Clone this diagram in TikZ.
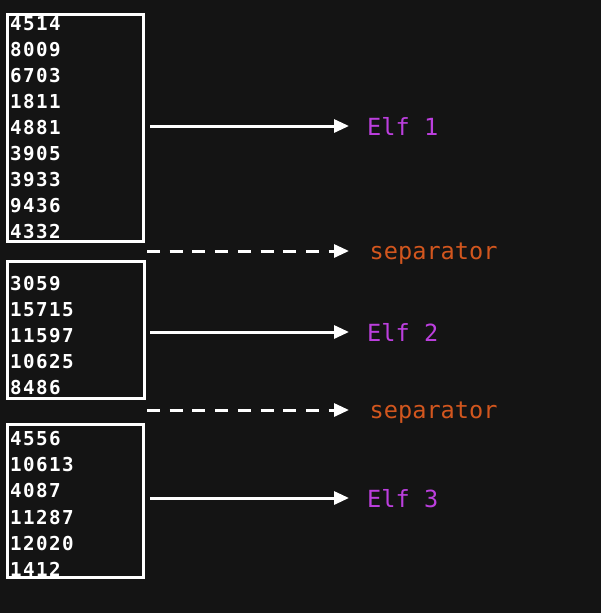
\documentclass[tikz,border=0pt]{standalone}
\usepackage{fontspec}
\setmonofont{DejaVu Sans Mono}
\newfontfamily\numfont[LetterSpace=7.5]{DejaVu Sans Mono Bold}
\newfontfamily\lblfont{DejaVu Sans Mono}
\usetikzlibrary{arrows.meta}
\definecolor{bg}{HTML}{141414}
\definecolor{elfc}{HTML}{BC3FDE}
\definecolor{sepc}{HTML}{D2561E}
\begin{document}
\begin{tikzpicture}[x=1pt,y=-1pt,
  num/.style={anchor=west,inner sep=0pt,text=white,font=\numfont\fontsize{19.2}{22}\selectfont},
  grp/.style={draw=white,line width=3pt,anchor=north west,inner sep=0pt},
  elf/.style={anchor=base west,inner sep=0pt,text=elfc,font=\lblfont\fontsize{23.6}{26}\selectfont},
  sep/.style={anchor=base west,inner sep=0pt,text=sepc,font=\lblfont\fontsize{23.6}{26}\selectfont},
  arr/.style={draw=white,line width=3pt,-{Triangle[length=15pt,width=13pt]}},
  darr/.style={arr,dash pattern=on 13pt off 9.7pt}
]
\fill[bg] (0,0) rectangle (601,613);
\useasboundingbox (0,0) rectangle (601,613);
% numbers
\foreach \v [count=\i] in {4514,8009,6703,1811,4881,3905,3933,9436,4332}
  \node[num] (a\i) at (10,{23.5+26*(\i-1)}) {\v};
\foreach \v [count=\i] in {3059,15715,11597,10625,8486}
  \node[num] (b\i) at (10,{283.5+26*(\i-1)}) {\v};
\foreach \v [count=\i] in {4556,10613,4087,11287,12020,1412}
  \node[num] (c\i) at (10,{438.5+26.2*(\i-1)}) {\v};
% boxes
\node[grp,minimum width=136pt,minimum height=227pt] (g1) at (5.5,12.5) {};
\node[grp,minimum width=137.5pt,minimum height=136.5pt] (g2) at (5.5,260) {};
\node[grp,minimum width=136pt,minimum height=153.5pt] (g3) at (5.5,422.5) {};
% labels
\node[elf] (e1) at (367,135) {Elf 1};
\node[sep] (s1) at (369.5,259) {separator};
\node[elf] (e2) at (367,341) {Elf 2};
\node[sep] (s2) at (369.5,418) {separator};
\node[elf] (e3) at (367,507) {Elf 3};
% connectors
\coordinate (t1) at (349,126);
\coordinate (t2) at (349,251);
\coordinate (t3) at (349,332);
\coordinate (t4) at (349,410);
\coordinate (t5) at (349,498);
\coordinate (d1) at (147,251);
\coordinate (d2) at (147,410);
\draw[arr] ([xshift=5.5pt]g1.east |- t1) -- (t1);
\draw[arr] ([xshift=4pt]g2.east |- t3) -- (t3);
\draw[arr] ([xshift=5.5pt]g3.east |- t5) -- (t5);
\draw[darr] (d1) -- (t2);
\draw[darr] (d2) -- (t4);
\end{tikzpicture}
\end{document}
